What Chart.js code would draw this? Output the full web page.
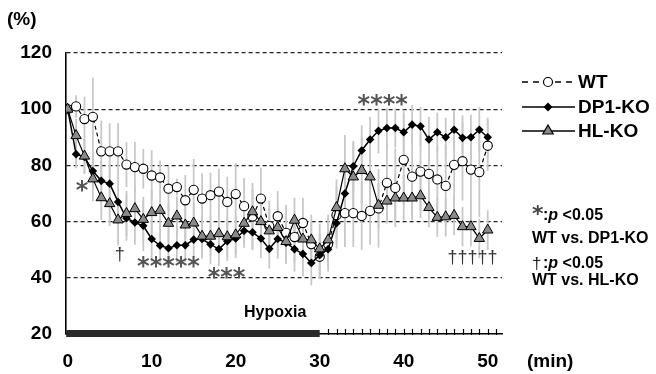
<!DOCTYPE html>
<html><head><meta charset="utf-8">
<script src="https://cdn.jsdelivr.net/npm/chart.js@4/dist/chart.umd.min.js"></script>
<style>html,body{margin:0;padding:0;background:#fff}#wrap{width:656px;height:374px}</style>
</head><body><div id="wrap"><canvas id="c" width="656" height="374"></canvas></div>
<script>
// ---- data ----
const minutes = [0,1,2,3,4,5,6,7,8,9,10,11,12,13,14,15,16,17,18,19,20,21,22,23,24,25,26,27,28,29,30,31,32,33,34,35,36,37,38,39,40,41,42,43,44,45,46,47,48,49,50];
const wtValues = [100,101,96.5,97.3,85,85,85,80.3,79.4,78.8,76.4,75.7,71.7,72.3,67.6,71.3,68.2,69.4,70.7,67,69.8,65.5,61.8,68.2,58.4,61.9,56,54.5,59.5,52,47.5,52,62.3,63,63,62,63.8,64.7,73.8,72,82,76,77.8,77,75,72.7,80.2,81.5,78.5,77.6,87];
const dp1Values = [100,84,83,78,74.5,73.5,67,61.2,59.7,58.5,53.8,51.5,50.5,51.6,51.6,53.6,53.8,51.9,50.2,53,54,56.7,56.2,54,50.3,53.8,52.5,50.2,48.5,45.3,48,50.2,59.4,70,79.7,85.3,89.2,92.3,93.3,93.3,91.8,94.5,93.9,89.2,91.8,90,92.7,89.8,90,92.7,90];
const hlValues = [100,90.6,83.3,75.2,68.5,66.4,60.6,62.9,64.6,60.8,63.2,64,59.4,62,58.8,59.5,54.8,54.8,55.7,54.6,55.3,59.4,63.5,60,56.7,57.9,52.9,60.5,53.8,53.5,50.3,53.5,65,78.8,75.9,78.2,75.9,65.8,67.3,68.4,68.4,68.4,69.2,65,61.5,61.7,62.2,58.2,58.2,54,57];
const wtErr = [0,4,8,14,11,10,10,8,9,7,9,6,8,3,9,11,9,8,8,9,11,10,12,11,9,9,10,9,9,8,8,8,10,12,12,12,12,14,14,14,16,14,14,12,12,14,18,14,14,16,9];
const dp1Err = [0,5,6,6,7,7,8,8,8,9,8,7,7,6,6,6,7,7,6,7,7,6,6,7,7,7,7,8,8,8,8,8,9,9,9,9,8,8,7,7,8,7,7,8,7,7,7,8,8,8,7];
const hlErr = [0,6,6,8,8,8,9,8,8,8,8,7,7,7,7,7,7,7,7,7,7,7,8,8,8,8,8,8,8,9,9,9,10,12,12,12,12,8,8,8,8,8,8,7,7,7,7,7,7,7,7];
const seriesNames = ['WT','DP1-KO','HL-KO'];
const xTickLabels = [0,10,20,30,40,50];
const yTickLabels = [20,40,60,80,100,120];
const hypoxiaPeriod = [0,30];
const recoveryTicks = [31,32,33,34,35,36,37,38,39,40,41,42,43,44,45,46,47,48,49,50,51];
// significance marks: [minute, value, text, kind]
const sigMarks = [
  [1.7, 72.5, '*', 'a'],
  [6.2, 48, '\u2020', 'd'],
  [12, 45.5, '*****', 'a'],
  [18.9, 41.5, '***', 'a'],
  [37.5, 103, '****', 'a'],
  [48.2, 47, '\u2020\u2020\u2020\u2020\u2020', 'd']
];

const FONT = '"Liberation Sans", Arial, sans-serif';
const toPts = (vals) => minutes.map((m, i) => ({x: m, y: vals[i]}));

const decorPlugin = {
  id: 'decor',
  beforeDatasetsDraw(chart) {
    const {ctx, scales: {x, y}} = chart;
    ctx.save();
    ctx.strokeStyle = '#c8c8c8';
    ctx.lineWidth = 1.8;
    [[wtValues, wtErr], [dp1Values, dp1Err], [hlValues, hlErr]].forEach(([vals, errs]) => {
      minutes.forEach((m, i) => {
        if (!errs[i]) return;
        const px = x.getPixelForValue(m);
        ctx.beginPath();
        ctx.moveTo(px, y.getPixelForValue(vals[i] - errs[i]));
        ctx.lineTo(px, y.getPixelForValue(vals[i] + errs[i]));
        ctx.stroke();
      });
    });
    ctx.restore();
  },
  afterDraw(chart) {
    const {ctx, chartArea, scales: {x, y}} = chart;
    ctx.save();
    // hypoxia bar
    const x0 = Math.max(chartArea.left, x.getPixelForValue(hypoxiaPeriod[0]) - 1.5);
    const x1 = x.getPixelForValue(hypoxiaPeriod[1]);
    ctx.fillStyle = '#2a2a2a';
    ctx.fillRect(x0, chartArea.bottom - 4, x1 - x0, 7);
    // recovery minor ticks
    ctx.strokeStyle = '#000';
    ctx.lineWidth = 1.2;
    recoveryTicks.forEach(m => {
      const px = Math.round(x.getPixelForValue(m)) + 0.5;
      ctx.beginPath();
      ctx.moveTo(px, chartArea.bottom + 1);
      ctx.lineTo(px, chartArea.bottom - 5);
      ctx.stroke();
    });
    ctx.fillStyle = '#000';
    ctx.font = 'bold 16px ' + FONT;
    ctx.textAlign = 'center';
    ctx.textBaseline = 'middle';
    ctx.fillText('Hypoxia', x.getPixelForValue(24.7), 313);
    // significance marks
    sigMarks.forEach(([m, v, t, kind]) => {
      const px = x.getPixelForValue(m), py = y.getPixelForValue(v);
      if (kind === 'a') {
        ctx.fillStyle = '#555';
        ctx.font = 'bold 24px "DejaVu Sans", sans-serif';
        ctx.textBaseline = 'middle';
        ctx.fillText(t, px, py + 5);
      } else {
        ctx.fillStyle = '#333';
        ctx.font = '18px ' + FONT;
        ctx.textBaseline = 'middle';
        ctx.fillText(t, px, py);
      }
    });
    // axis unit labels
    ctx.fillStyle = '#000';
    ctx.font = 'bold 19px ' + FONT;
    ctx.textAlign = 'left';
    ctx.fillText('(%)', 7, 20);
    ctx.fillText('(min)', 527, 362);
    // legend
    const rows = [82, 107, 131];
    const lx0 = 522, lx1 = 575, lc = 548;
    ctx.strokeStyle = '#000';
    rows.forEach((ry, i) => {
      ctx.beginPath();
      ctx.lineWidth = i === 1 ? 1.6 : 1.3;
      ctx.setLineDash(i === 0 ? [6, 5] : []);
      ctx.moveTo(lx0, ry); ctx.lineTo(lx1, ry); ctx.stroke();
      ctx.setLineDash([]);
      ctx.lineWidth = 1.2;
      if (i === 0) {
        ctx.beginPath(); ctx.arc(lc, ry, 4.5, 0, Math.PI * 2);
        ctx.fillStyle = '#fff'; ctx.fill(); ctx.stroke();
      } else if (i === 1) {
        ctx.beginPath(); ctx.moveTo(lc, ry - 4.5); ctx.lineTo(lc + 4.5, ry); ctx.lineTo(lc, ry + 4.5); ctx.lineTo(lc - 4.5, ry); ctx.closePath();
        ctx.fillStyle = '#000'; ctx.fill();
      } else {
        ctx.beginPath(); ctx.moveTo(lc, ry - 6); ctx.lineTo(lc + 5.2, ry + 3); ctx.lineTo(lc - 5.2, ry + 3); ctx.closePath();
        ctx.fillStyle = '#888'; ctx.fill(); ctx.stroke();
      }
      ctx.fillStyle = '#000';
      ctx.font = 'bold 19px ' + FONT;
      ctx.textAlign = 'left';
      ctx.textBaseline = 'middle';
      ctx.fillText(seriesNames[i], 578, ry + 1);
    });
    // significance legend
    const drawP = (sym, symFont, symColor, ypos, symDy) => {
      ctx.fillStyle = symColor;
      ctx.font = symFont;
      ctx.fillText(sym, 532, ypos + symDy);
      let cx = 543;
      ctx.fillStyle = '#000';
      ctx.font = 'bold 16px ' + FONT;
      ctx.fillText(':', cx, ypos); cx += ctx.measureText(':').width;
      ctx.font = 'italic bold 16px ' + FONT;
      ctx.fillText('p', cx, ypos); cx += ctx.measureText('p ').width;
      ctx.font = 'bold 16px ' + FONT;
      ctx.fillText('<0.05', cx, ypos);
    };
    ctx.textBaseline = 'middle';
    drawP('*', 'bold 22px "DejaVu Sans", sans-serif', '#444', 216, -1);
    ctx.fillStyle = '#000'; ctx.font = 'bold 16px ' + FONT;
    ctx.fillText('WT vs. DP1-KO', 532, 239);
    drawP('\u2020', '17px ' + FONT, '#222', 264, 0);
    ctx.fillStyle = '#000'; ctx.font = 'bold 16px ' + FONT;
    ctx.fillText('WT vs. HL-KO', 532, 281);
    ctx.restore();
  }
};

new Chart(document.getElementById('c'), {
  type: 'line',
  data: {
    datasets: [
      { label: seriesNames[2], data: toPts(hlValues), borderColor: '#000', borderWidth: 1.2,
        pointStyle: 'triangle', pointRadius: 6, pointBackgroundColor: '#8a8a8a', pointBorderColor: '#000', pointBorderWidth: 1, order: 1 },
      { label: seriesNames[1], data: toPts(dp1Values), borderColor: '#000', borderWidth: 1.5,
        pointStyle: 'rectRot', pointRadius: 4.3, pointBackgroundColor: '#000', pointBorderColor: '#000', pointBorderWidth: 0, order: 2 },
      { label: seriesNames[0], data: toPts(wtValues), borderColor: '#000', borderWidth: 1.2, borderDash: [4, 3],
        pointStyle: 'circle', pointRadius: 4.6, pointBackgroundColor: '#fff', pointBorderColor: '#000', pointBorderWidth: 1.1, order: 3 }
    ]
  },
  options: {
    responsive: false,
    animation: false,
    devicePixelRatio: 1,
    layout: { padding: { left: 0, top: 53, right: 154, bottom: 0 } },
    plugins: { legend: { display: false }, tooltip: { enabled: false } },
    elements: { line: { tension: 0, fill: false } },
    scales: {
      x: {
        type: 'linear', min: -0.2, max: 51.7,
        afterBuildTicks: (s) => { s.ticks = xTickLabels.map(v => ({ value: v })); },
        afterFit: (s) => { s.height = 40; },
        grid: { display: false, drawTicks: false },
        border: { display: true, color: '#000', width: 1.5 },
        ticks: { autoSkip: false, maxRotation: 0, padding: 16, color: '#000', font: { family: FONT, size: 19, weight: 'bold' } }
      },
      y: {
        min: 20, max: 120,
        afterBuildTicks: (s) => { s.ticks = yTickLabels.map(v => ({ value: v })); },
        afterFit: (s) => { s.width = 66; },
        grid: { drawTicks: false, lineWidth: 1.3, color: (c) => (c.tick && c.tick.value === 20) ? 'rgba(0,0,0,0)' : '#222' },
        border: { display: true, color: '#000', width: 1.6, dash: [4, 3] },
        ticks: { padding: 14, color: '#000', font: { family: FONT, size: 19, weight: 'bold' } }
      }
    }
  },
  plugins: [decorPlugin]
});
</script></body></html>
